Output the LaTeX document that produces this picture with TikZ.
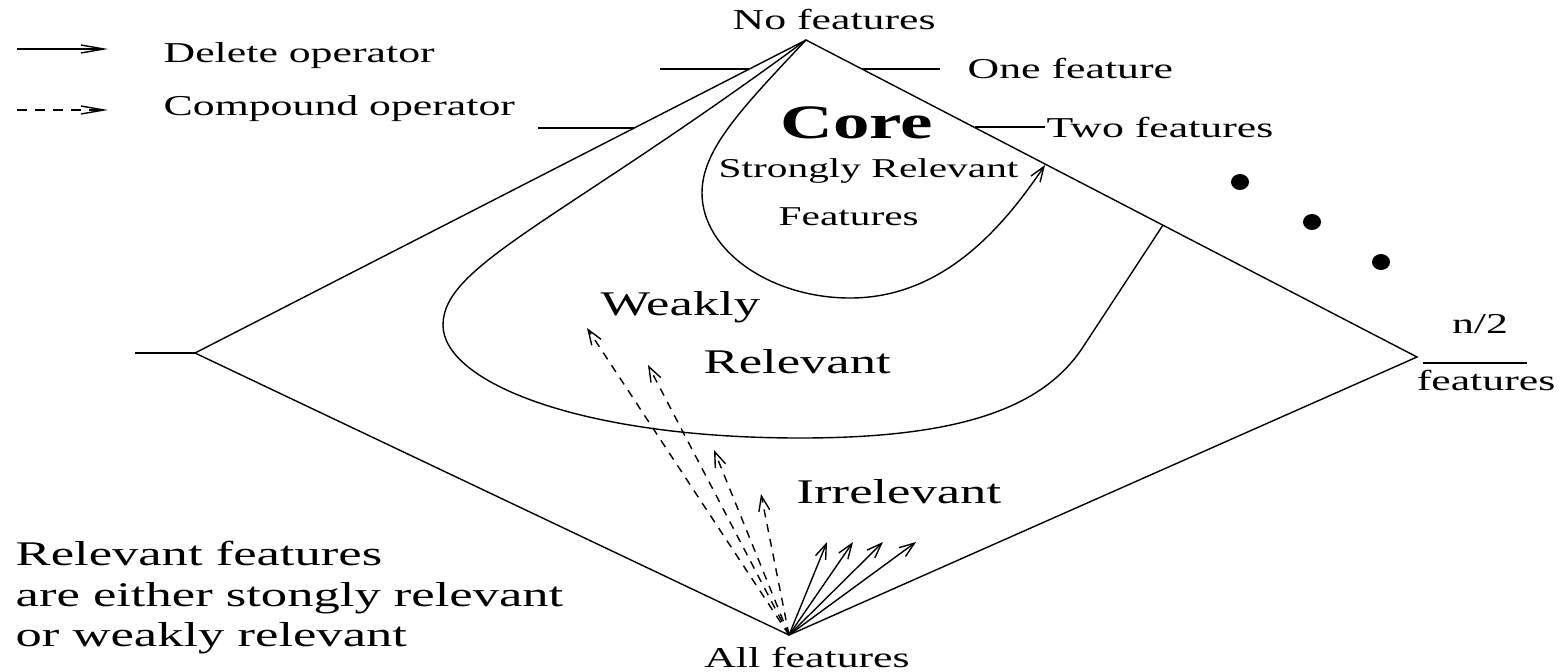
\documentclass[tikz,border=0pt]{standalone}
\usepackage{fontspec}
\setmainfont{Liberation Serif}[FakeStretch=1.52]
\usetikzlibrary{arrows.meta}
\begin{document}
\begin{tikzpicture}[x=0.5pt,y=-0.5pt,line width=0.7pt,
  txt/.style={font=\fontsize{14.4}{17}\selectfont,inner sep=0pt},
  bigtxt/.style={font=\fontsize{17.3}{20}\selectfont,inner sep=0pt},
  smalltxt/.style={font=\fontsize{13.6}{16}\selectfont,inner sep=0pt},
  coretxt/.style={font=\fontsize{24}{28}\selectfont\bfseries,inner sep=0pt},
  delarrow/.style={-{Straight Barb[length=7.5pt,width=5.5pt]}},
  cmparrow/.style={delarrow,dash pattern=on 4pt off 3.5pt},
  legdel/.style={-{Straight Barb[length=11.5pt,width=4pt]}},
  legcmp/.style={legdel,dash pattern=on 5pt off 4pt},
  dotmark/.style={fill=black}]
\useasboundingbox (0,0) rectangle (1561,671);

% diamond corners
\coordinate (apex) at (806,40);
\coordinate (lft) at (195,353);
\coordinate (rgt) at (1417,357);
\coordinate (bot) at (789,635);

\draw (apex) -- (lft) -- (bot) -- (rgt) -- cycle;

% level ticks
\coordinate (l1a) at (660,69);  \coordinate (l1b) at (749,69);
\coordinate (l2a) at (538,128); \coordinate (l2b) at (634,128);
\coordinate (r1a) at (862,69);  \coordinate (r1b) at (940,69);
\coordinate (r2a) at (975,127); \coordinate (r2b) at (1045,127);
\coordinate (lha) at (135,353);
\coordinate (nha) at (1423,363); \coordinate (nhb) at (1527,363);
\draw (l1a) -- (l1b);
\draw (l2a) -- (l2b);
\draw (r1a) -- (r1b);
\draw (r2a) -- (r2b);
\draw (lha) -- (lft);
\draw (nha) -- (nhb);

% weakly relevant boundary
\coordinate (wend) at (1163,225);
\draw (apex) .. controls (559,222) and (443,265) .. (443,325)
  .. controls (443,382) and (580,438) .. (800,438)
  .. controls (960,438) and (1043,408) .. (1083,347) -- (wend);

% core boundary (delete operator)
\coordinate (cend) at (1045,165);
\draw[delarrow] (apex) .. controls (740,110) and (702,150) .. (702,193)
  .. controls (702,250) and (770,298) .. (850,298)
  .. controls (940,298) and (1000,232) .. (cend);

% arrows from all features
\coordinate (d1) at (587,328);
\coordinate (d2) at (648,365);
\coordinate (d3) at (714,450);
\coordinate (d4) at (761,494);
\draw[cmparrow] (bot) -- (d1);
\draw[cmparrow] (bot) -- (d2);
\draw[cmparrow] (bot) -- (d3);
\draw[cmparrow] (bot) -- (d4);
\coordinate (s1) at (827,542);
\coordinate (s2) at (853,542);
\coordinate (s3) at (883,542);
\coordinate (s4) at (916,542);
\draw[delarrow] (bot) -- (s1);
\draw[delarrow] (bot) -- (s2);
\draw[delarrow] (bot) -- (s3);
\draw[delarrow] (bot) -- (s4);

% dots
\fill[dotmark] (1240,182) ellipse [x radius=4.5pt,y radius=4pt];
\fill[dotmark] (1312,222) ellipse [x radius=4.5pt,y radius=4pt];
\fill[dotmark] (1381,262) ellipse [x radius=4.5pt,y radius=4pt];

% legend
\coordinate (la) at (17,49);  \coordinate (lb) at (108,49);
\coordinate (lc) at (17,110); \coordinate (ld) at (108,110);
\draw[legdel] (la) -- (lb);
\draw[legcmp] (lc) -- (ld);
\node[txt,anchor=base west] (tdel) at (163,62) {Delete operator};
\node[txt,anchor=base west] (tcmp) at (163,115) {Compound operator};

% labels
\node[txt,anchor=base west] (tnof) at (732,29) {No features};
\node[txt,anchor=base west] (tone) at (967,78) {One feature};
\node[txt,anchor=base west] (ttwo) at (1046,137) {Two features};
\node[txt,anchor=base] (thalf) at (1480,333) {n/2};
\node[txt,anchor=base] (thalff) at (1486,390) {features};
\node[txt,anchor=base] (tall) at (807,667) {All features};
\node[coretxt,anchor=base west] (tcore) at (780,138) {Core};
\node[smalltxt,anchor=base west] (tstr) at (718,177) {Strongly Relevant};
\node[smalltxt,anchor=base west] (tfeat) at (778,225) {Features};
\node[bigtxt,anchor=base west] (tweak) at (600,315) {Weakly};
\node[bigtxt,anchor=base west] (trel) at (703,373) {Relevant};
\node[bigtxt,anchor=base west] (tirr) at (796,503) {Irrelevant};
\node[bigtxt,anchor=base west] (tr1) at (15,565) {Relevant features};
\node[bigtxt,anchor=base west] (tr2) at (15,606) {are either stongly relevant};
\node[bigtxt,anchor=base west] (tr3) at (15,646) {or weakly relevant};
\end{tikzpicture}
\end{document}
